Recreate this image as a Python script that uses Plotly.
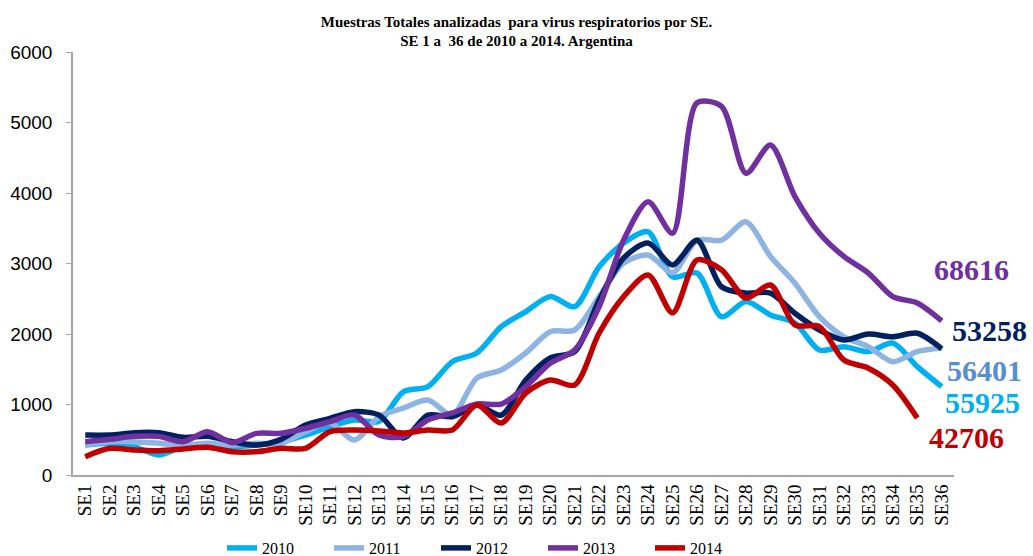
import plotly.graph_objects as go

weeks = [f"SE{i}" for i in range(1, 37)]

v2010 = [425, 449, 402, 284, 402, 425, 402, 425, 473, 567, 685, 780,
         760, 1180, 1253, 1607, 1730, 2105, 2317, 2530, 2388, 2955, 3290, 3450,
         2810, 2865, 2245, 2460, 2270, 2155, 1773, 1820, 1750, 1870, 1537, 1253]
v2011 = [425, 473, 473, 449, 425, 449, 425, 449, 449, 614, 740, 496,
         827, 950, 1064, 850, 1375, 1490, 1730, 2033, 2057, 2530, 3007, 3120,
         2870, 3330, 3330, 3590, 3100, 2720, 2245, 1960, 1820, 1607, 1750, 1800]
v2012 = [567, 567, 600, 600, 534, 548, 473, 425, 506, 709, 804, 898,
         850, 525, 850, 827, 993, 850, 1347, 1660, 1750, 2482, 3078, 3290,
         2980, 3330, 2670, 2580, 2580, 2295, 2057, 1915, 2000, 1960, 2010, 1790]
v2013 = [473, 506, 548, 548, 473, 614, 458, 591, 591, 662, 756, 851,
         567, 543, 780, 880, 1007, 1007, 1253, 1584, 1773, 2388, 3333, 3877,
         3430, 5280, 5230, 4280, 4680, 3950, 3430, 3100, 2865, 2530, 2440, 2185]
v2014 = [260, 378, 355, 345, 370, 393, 331, 331, 378, 378, 614, 638,
         624, 596, 638, 638, 993, 737, 1163, 1347, 1277, 2014, 2530, 2837,
         2300, 3050, 2910, 2510, 2695, 2130, 2105, 1630, 1515, 1277, 808]

series = [("2010", v2010, "#00B0F0"), ("2011", v2011, "#8DB4E2"),
          ("2012", v2012, "#002060"), ("2013", v2013, "#7030A0"),
          ("2014", v2014, "#C00000")]

totals = ["68616", "53258", "56401", "55925", "42706"]
total_colors = ["#7030A0", "#002060", "#558ED5", "#00B0F0", "#C00000"]
label_y = [2908, 2043, 1489, 1035, 525]
label_x = [0.975, 0.995, 0.99, 0.987, 0.969]

fig = go.Figure()
for name, vals, col in series:
    fig.add_trace(go.Scatter(x=weeks[:len(vals)], y=vals, name=name, mode="lines",
                             line=dict(color=col, width=5.5, shape="spline", smoothing=0.8)))

for txt, col, yv, lx in zip(totals, total_colors, label_y, label_x):
    fig.add_annotation(x=lx, xref="paper", y=yv, yref="y", text=f"<b>{txt}</b>",
                       showarrow=False, xanchor="left", yanchor="middle",
                       font=dict(family="Liberation Serif", size=30, color=col))

fig.update_layout(
    width=1033, height=556,
    margin=dict(l=73, r=79, t=52, b=81, autoexpand=False),
    paper_bgcolor="white", plot_bgcolor="white",
    title=dict(text="<b>Muestras Totales analizadas  para virus respiratorios por SE.<br>SE 1 a  36 de 2010 a 2014. Argentina</b>",
               x=0.5, xanchor="center", y=0.952, yanchor="top",
               font=dict(family="Liberation Serif", size=15, color="black")),
    xaxis=dict(type="category", categoryorder="array", categoryarray=weeks,
               range=[-0.5, 35.5], showgrid=False, showline=True, linecolor="#A6A6A6",
               linewidth=2, tickangle=-90, ticks="", automargin=False,
               tickfont=dict(family="Liberation Serif", size=19, color="black")),
    yaxis=dict(range=[0, 6000], dtick=1000, showgrid=False, showline=True,
               linecolor="#A6A6A6", linewidth=1.5, ticks="outside", ticklen=5,
               tickcolor="#A6A6A6", zeroline=False, automargin=False,
               ticklabelstandoff=10,
               tickfont=dict(family="Liberation Sans", size=19, color="black")),
    legend=dict(orientation="h", x=222 / 1033, xref="container", xanchor="left",
                y=(556 - 548) / 556, yref="container", yanchor="middle",
                entrywidth=62, entrywidthmode="pixels", itemwidth=30,
                font=dict(family="Liberation Serif", size=16, color="black"),
                bgcolor="rgba(0,0,0,0)"),
    showlegend=True,
)

fig.write_html("out.html", config={"displayModeBar": False},
               post_script="document.body.style.margin='0';document.body.style.overflow='hidden';")
